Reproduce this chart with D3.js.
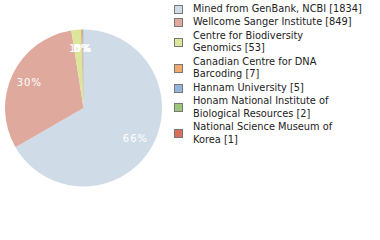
<!DOCTYPE html>
<html>
<head>
<meta charset="utf-8">
<script src="https://cdn.jsdelivr.net/npm/d3@7"></script>
<style>
  body { margin: 0; background: #fff; }
  svg { font-family: "DejaVu Sans", Verdana, sans-serif; }
</style>
</head>
<body>
<div class="chart"></div>
<script>
var svgWidth = 380;
var svgHeight = 240;

// data
var institutions = [
  "Mined from GenBank, NCBI",
  "Wellcome Sanger Institute",
  "Centre for Biodiversity Genomics",
  "Canadian Centre for DNA Barcoding",
  "Hannam University",
  "Honam National Institute of Biological Resources",
  "National Science Museum of Korea"
];
var counts = [1834, 849, 53, 7, 5, 2, 1];
var colors = ["#cfdbe6", "#e0a99e", "#dde59b", "#f2a96c", "#94b6dc", "#9cc67a", "#d9705a"];

var svg = d3.select(".chart")
  .append("svg")
  .attr("width", svgWidth)
  .attr("height", svgHeight);

var radius = 78.5;
var chart = svg.append("g")
  .attr("transform", "translate(83.5,108)");

var data = institutions.map(function(name, i) {
  return { name: name, count: counts[i], color: colors[i] };
});
var total = d3.sum(counts);

var pie = d3.pie()
  .sort(null)
  .value(function(d) { return d.count; });

var arc = d3.arc().innerRadius(0).outerRadius(radius);
var labelArc = d3.arc().innerRadius(60).outerRadius(60);

var slices = chart.selectAll("g.slice")
  .data(pie(data))
  .enter()
  .append("g")
  .attr("class", "slice");

slices.append("path")
  .attr("d", arc)
  .attr("fill", function(d) { return d.data.color; });

slices.append("text")
  .attr("transform", function(d) { return "translate(" + labelArc.centroid(d) + ")"; })
  .attr("text-anchor", "middle")
  .attr("dy", "0.35em")
  .attr("font-size", 10)
  .attr("letter-spacing", 1)
  .attr("fill", "#fff")
  .text(function(d) { return Math.floor(d.data.count / total * 100) + "%"; });

// legend, wrapped at about 31 characters a line
var legend = svg.append("g").attr("transform", "translate(174,0)");
var maxChars = 31;
var lineHeight = 12.5;
var cursor = 8.5;

data.forEach(function(d) {
  var g = legend.append("g");
  var words = (d.name + " [" + d.count + "]").split(" ");
  var lines = [];
  var line = "";
  words.forEach(function(w) {
    var next = line ? line + " " + w : w;
    if (next.length > maxChars && line) {
      lines.push(line);
      line = w;
    } else {
      line = next;
    }
  });
  lines.push(line);

  var text = g.append("text")
    .attr("font-size", 9.8)
    .attr("fill", "#222");
  lines.forEach(function(l, k) {
    text.append("tspan")
      .attr("x", 19)
      .attr("y", cursor + k * lineHeight)
      .attr("dy", "0.35em")
      .text(l);
  });
  var mid = cursor + (lines.length - 1) * lineHeight / 2;
  g.append("rect")
    .attr("x", 0.5)
    .attr("y", Math.round(mid - 4) + 0.5)
    .attr("width", 8)
    .attr("height", 8)
    .attr("fill", d.color)
    .attr("stroke", "#777")
    .attr("stroke-width", 1);
  cursor += lines.length * lineHeight + 1;
});
</script>
</body>
</html>
